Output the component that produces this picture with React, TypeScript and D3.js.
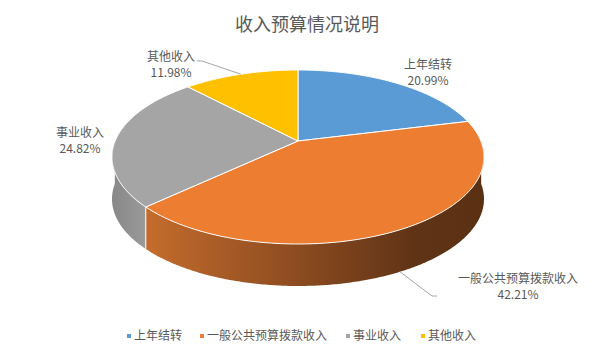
import { useEffect, useRef } from "react";
import * as d3 from "d3";

// chart data
const categories = ["上年结转", "一般公共预算拨款收入", "事业收入", "其他收入"];
const values = [20.99, 42.21, 24.82, 11.98];
const percentLabels = ["20.99%", "42.21%", "24.82%", "11.98%"];
const colors = ["#5B9BD5", "#ED7D31", "#A5A5A5", "#FFC000"];
const title = "收入预算情况说明";

function App() {
    const ref = useRef<SVGSVGElement>(null);

    useEffect(() => {
        const width = 598, height = 352;
        const svg = d3.select(ref.current)
            .attr("width", width)
            .attr("height", height);
        svg.selectAll("*").remove();

        const font = "'Noto Sans CJK SC', 'Noto Sans', sans-serif";
        const textColor = "#595959";

        // pie geometry (ellipse seen in perspective)
        const cx = 298, cy = 157, rx = 186, ry = 87, depth = 42;
        const apexY = cy - 16; // true centre sits higher because of perspective
        const warp = (a: number) => a - 0.175 * Math.sin(a); // far side looks compressed
        const px = (a: number) => cx + rx * Math.sin(warp(a));
        const py = (a: number) => cy - ry * Math.cos(warp(a));

        const arcs = d3.pie<number>().sort(null).value(d => d)(values);

        const sample = (a0: number, a1: number) => {
            const n = Math.max(2, Math.ceil(Math.abs(a1 - a0) / 0.01));
            return d3.range(n + 1).map(i => a0 + (a1 - a0) * i / n);
        };

        const defs = svg.append("defs");
        const sideGrad = [
            [["0", "#c46c2d"], ["0.45", "#8c4b20"], ["0.8", "#5f3316"], ["1", "#5a3013"]],
            [["0", "#888888"], ["1", "#9a9a9a"]]
        ];
        // gradients for the front side faces
        arcs.forEach((d, i) => {
            const g = defs.append("linearGradient").attr("id", "side" + i)
                .attr("x1", "0").attr("x2", "1").attr("y1", "0").attr("y2", "0");
            const stops = i === 1 ? sideGrad[0] : i === 2 ? sideGrad[1]
                : [["0", d3.color(colors[i])!.darker(0.8).formatHex()], ["1", d3.color(colors[i])!.darker(1.2).formatHex()]];
            stops.forEach(s => g.append("stop").attr("offset", s[0]).attr("stop-color", s[1]));
        });

        const g = svg.append("g");

        // side faces (front half only)
        arcs.forEach((d, i) => {
            const s = Math.max(d.startAngle, Math.PI / 2);
            const e = Math.min(d.endAngle, Math.PI * 3 / 2);
            if (s >= e) return;
            const top = sample(s, e).map(a => [px(a), py(a)]);
            const bottom = sample(e, s).map(a => [px(a), py(a) + depth]);
            const pts = top.concat(bottom);
            g.append("path")
                .attr("d", "M" + pts.map(p => p.join(",")).join("L") + "Z")
                .attr("fill", `url(#side${i})`);
        });

        // vertical edges on the side at slice borders
        arcs.forEach(d => {
            const a = d.startAngle;
            if (a > Math.PI / 2 && a < Math.PI * 3 / 2) {
                g.append("line")
                    .attr("x1", px(a)).attr("y1", py(a))
                    .attr("x2", px(a)).attr("y2", py(a) + depth)
                    .attr("stroke", "#ffffff").attr("stroke-width", 1);
            }
        });

        // top faces
        arcs.forEach((d, i) => {
            const pts = sample(d.startAngle, d.endAngle).map(a => [px(a), py(a)]);
            g.append("path")
                .attr("d", `M${cx},${apexY}L` + pts.map(p => p.join(",")).join("L") + "Z")
                .attr("fill", colors[i])
                .attr("stroke", "#ffffff")
                .attr("stroke-width", 1)
                .attr("stroke-linejoin", "round");
        });

        // title
        svg.append("text")
            .attr("x", 307).attr("y", 25).attr("dy", "0.35em")
            .attr("text-anchor", "middle")
            .attr("font-family", font).attr("font-size", 18)
            .attr("fill", textColor)
            .text(title);

        // data labels
        const labelPos = [
            {x: 428, y: 65, leader: false},
            {x: 518, y: 279, leader: true},
            {x: 80, y: 133, leader: false},
            {x: 171, y: 57, leader: true}
        ];
        arcs.forEach((d, i) => {
            const lp = labelPos[i];
            const t = svg.append("text")
                .attr("text-anchor", "middle")
                .attr("font-family", font).attr("font-size", 12)
                .attr("fill", textColor);
            t.append("tspan").attr("x", lp.x).attr("y", lp.y).attr("dy", "0.35em").text(categories[i]);
            t.append("tspan").attr("x", lp.x).attr("y", lp.y + 16).attr("dy", "0.35em").text(percentLabels[i]);

            if (lp.leader) {
                const mid = (d.startAngle + d.endAngle) / 2;
                const front = Math.cos(warp(mid)) < 0;
                const sx = px(mid), sy = py(mid) + (front ? depth : 0);
                let pts;
                if (front) {
                    pts = [[sx, sy], [lp.x - 86, lp.y + 17], [lp.x - 81, lp.y + 17]];
                } else {
                    pts = [[sx, sy], [lp.x + 31, lp.y + 4], [lp.x + 26, lp.y + 4]];
                }
                svg.append("path")
                    .attr("d", d3.line()(pts as [number, number][]))
                    .attr("fill", "none")
                    .attr("stroke", "#a6a6a6")
                    .attr("stroke-width", 1);
            }
        });

        // legend
        const legendX = [127, 200, 346, 421];
        const legend = svg.append("g");
        categories.forEach((c, i) => {
            legend.append("rect")
                .attr("x", legendX[i]).attr("y", 334)
                .attr("width", 4).attr("height", 4)
                .attr("fill", colors[i]);
            legend.append("text")
                .attr("x", legendX[i] + 7).attr("y", 336).attr("dy", "0.35em")
                .attr("font-family", font).attr("font-size", 12)
                .attr("fill", textColor)
                .text(c);
        });
    }, []);

    return <svg ref={ref} style={{position: "absolute", left: 0, top: 0, background: "#fff"}}></svg>;
}

export default App;
